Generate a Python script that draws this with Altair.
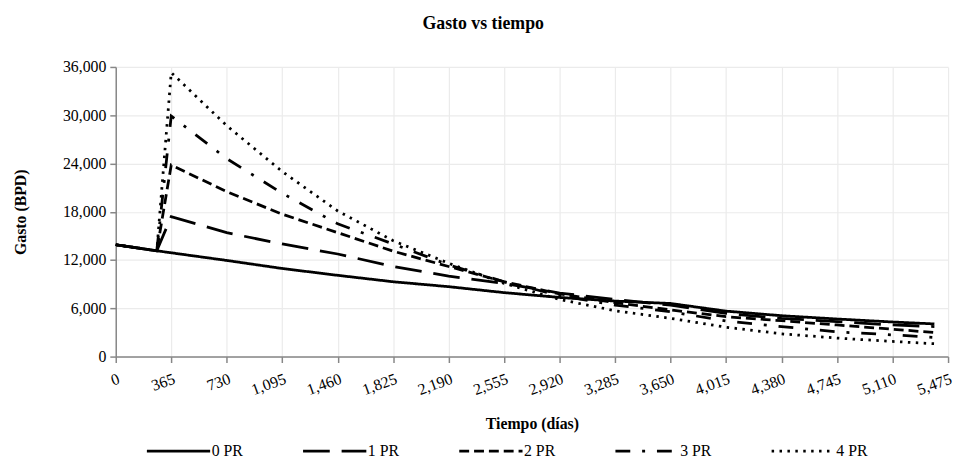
import altair as alt
import pandas as pd

# Time in days
t_vals = [0, 270, 365, 730, 1095, 1460, 1825, 2190, 2555, 2920, 3285, 3650, 4015, 4380, 4745, 5110, 5385]

pr0 = [13900, 13150, 12900, 11950, 10950, 10100, 9300, 8690, 7950, 7350, 6900, 6600, 5650, 5080, 4670, 4300, 4060]
pr1 = [13900, 13150, 17400, 15400, 14000, 12750, 11200, 10000, 9100, 7900, 7100, 6390, 5370, 4750, 4340, 3930, 3730]
pr2 = [13900, 13150, 23800, 20500, 17700, 15400, 13100, 11200, 9300, 7800, 6700, 5800, 4960, 4460, 3930, 3400, 2990]
pr3 = [13900, 13150, 29900, 24600, 20300, 16500, 14000, 11400, 9300, 7600, 6400, 5570, 4430, 3730, 3070, 2700, 2380]
pr4 = [13900, 13150, 35300, 28700, 23000, 18100, 14400, 11600, 9100, 7100, 5700, 4750, 3650, 2830, 2300, 1880, 1600]

series_names = ["0 PR", "1 PR", "2 PR", "3 PR", "4 PR"]
series_vals = [pr0, pr1, pr2, pr3, pr4]
dash_styles = [[1, 0], [27, 12], [10, 5], [15, 12, 3, 12], [2.5, 5.5]]

x_ticks = list(range(0, 5476, 365))
y_ticks = list(range(0, 36001, 6000))

rows = []
for name, vals in zip(series_names, series_vals):
    for t, v in zip(t_vals, vals):
        rows.append({"t": t, "q": v, "serie": name})
df = pd.DataFrame(rows)

font = "Liberation Serif"

chart = alt.Chart(df).mark_line(color="black", strokeWidth=2.8, strokeCap="butt").encode(
    x=alt.X("t:Q",
            scale=alt.Scale(domain=[0, 5475], nice=False, zero=False),
            axis=alt.Axis(values=x_ticks, format=",.0f", title="Tiempo (días)",
                          labelAngle=340, labelAlign="right", labelBaseline="top",
                          labelPadding=8, titlePadding=18)),
    y=alt.Y("q:Q",
            scale=alt.Scale(domain=[0, 36000], nice=False),
            axis=alt.Axis(values=y_ticks, format=",.0f", title="Gasto (BPD)",
                          labelPadding=4, titlePadding=34)),
    strokeDash=alt.StrokeDash("serie:N",
                              scale=alt.Scale(domain=series_names, range=dash_styles),
                              legend=alt.Legend(title=" ", titleOrient="left", titlePadding=30,
                                                titleFontSize=4,
                                                orient="bottom", direction="horizontal",
                                                symbolType="M-1,0H7", symbolSize=256,
                                                symbolStrokeWidth=2.8, symbolStrokeColor="black",
                                                labelFontSize=16, labelFont=font, labelColor="black",
                                                columnPadding=54, labelOffset=48, offset=10)),
    detail="serie:N",
).properties(
    width=842,
    height=293,
    title=alt.Title("Gasto vs tiempo", fontSize=18, font=font, fontWeight="bold", color="black",
                    offset=26, frame="bounds"),
    padding={"left": 5, "top": 5, "right": 0, "bottom": 0},
).configure_axis(
    labelFont=font, labelFontSize=16, labelColor="black",
    titleFont=font, titleFontSize=16, titleFontWeight="bold", titleColor="black",
    domainColor="#878787", domainWidth=1.5, tickColor="#878787", tickWidth=1.5, tickSize=6,
    gridColor="#ebebeb", gridWidth=1.2,
).configure_view(stroke=None)

chart.save("out.html", embed_options={"renderer": "svg", "actions": False})
